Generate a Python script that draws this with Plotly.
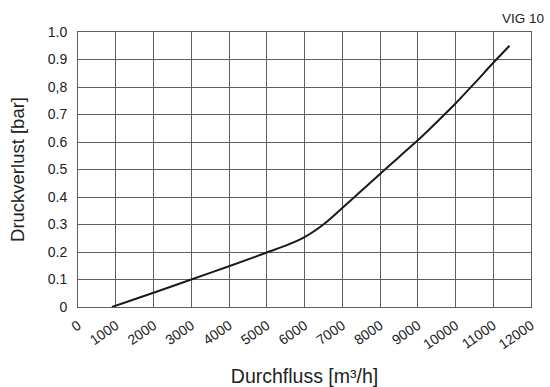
import plotly.graph_objects as go

# Pressure loss curve for VIG 10
flow = [900, 2000, 3000, 4000, 5000, 5500, 6000, 6500, 7000, 7500, 8000,
        8500, 9000, 9500, 10000, 10500, 11000, 11430]
pressure = [0.0, 0.052, 0.1, 0.148, 0.198, 0.223, 0.254, 0.30, 0.36, 0.422,
            0.484, 0.545, 0.606, 0.672, 0.74, 0.813, 0.888, 0.95]

x_ticks = list(range(0, 12001, 1000))
x_labels = [str(v) for v in x_ticks]
y_ticks = [i / 10 for i in range(11)]
y_labels = ["0", "0.1", "0.2", "0.3", "0.4", "0.5", "0.6", "0.7", "0,8", "0.9", "1.0"]

FONT = "Liberation Sans, Arial, sans-serif"
TEXT = "#222222"
GRID = "rgb(95,95,95)"

fig = go.Figure()
fig.add_trace(go.Scatter(
    x=flow, y=pressure, mode="lines",
    line=dict(color="#1a1a1a", width=2, shape="spline", smoothing=0.8),
    hoverinfo="skip", showlegend=False,
))

fig.update_layout(
    width=550, height=387,
    margin=dict(l=78, r=19, t=32, b=80),
    paper_bgcolor="white", plot_bgcolor="white",
    font=dict(family=FONT, color=TEXT, size=14),
    xaxis=dict(
        range=[0, 12000], tickmode="array", tickvals=x_ticks, ticktext=x_labels,
        tickangle=-35, showgrid=True, gridcolor=GRID, gridwidth=1,
        showline=True, mirror=True, linecolor=GRID, linewidth=1,
        zeroline=False, ticks="", tickfont=dict(size=14), ticklabelstandoff=4,
        automargin=False,
        title=dict(text="Durchfluss [m³/h]", font=dict(size=19.5), standoff=18),
    ),
    yaxis=dict(
        range=[0, 1], tickmode="array", tickvals=y_ticks, ticktext=y_labels,
        showgrid=True, gridcolor=GRID, gridwidth=1,
        showline=True, mirror=True, linecolor=GRID, linewidth=1,
        zeroline=False, ticks="", tickfont=dict(size=14), ticklabelstandoff=7,
        automargin=False,
        title=dict(text="Druckverlust [bar]", font=dict(size=18.5), standoff=18),
    ),
    annotations=[dict(
        text="VIG 10", xref="paper", yref="paper", x=1.034, y=1.015,
        xanchor="right", yanchor="bottom", showarrow=False,
        font=dict(size=13.5, family=FONT, color=TEXT),
    )],
)

fig.write_html("out.html")
